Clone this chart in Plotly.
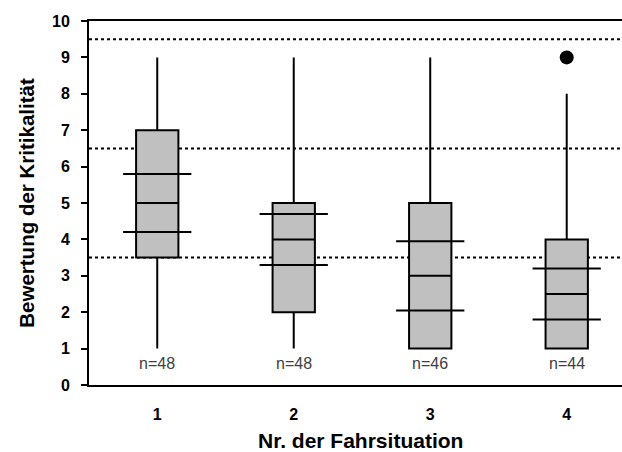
import plotly.graph_objects as go

situations = [1, 2, 3, 4]
lower_whisker = [1, 1, 1, 1]
q1 = [3.5, 2, 1, 1]
median = [5, 4, 3, 2.5]
q3 = [7, 5, 5, 4]
upper_whisker = [9, 9, 9, 8]
ci_lower = [4.2, 3.3, 2.05, 1.8]
ci_upper = [5.8, 4.7, 3.95, 3.2]
n_labels = ["n=48", "n=48", "n=46", "n=44"]
outlier_x = [4]
outlier_y = [9]
ref_lines = [3.5, 6.5, 9.5]
y_ticks = list(range(0, 11))

FONT = "Liberation Sans, Arial, sans-serif"
BOX_W = 0.31
CI_HALF = 0.25

fig = go.Figure()

fig.add_trace(go.Box(
    x=situations, q1=q1, median=median, q3=q3,
    lowerfence=lower_whisker, upperfence=upper_whisker,
    width=BOX_W, whiskerwidth=0, boxpoints=False,
    fillcolor="#C0C0C0", line=dict(color="black", width=2),
    showlegend=False, hoverinfo="skip",
))

ci_x, ci_y = [], []
for x, lo, hi in zip(situations, ci_lower, ci_upper):
    for v in (lo, hi):
        ci_x += [x - CI_HALF, x + CI_HALF, None]
        ci_y += [v, v, None]
fig.add_trace(go.Scatter(x=ci_x, y=ci_y, mode="lines",
                         line=dict(color="black", width=2),
                         showlegend=False, hoverinfo="skip"))

fig.add_trace(go.Scatter(x=outlier_x, y=outlier_y, mode="markers",
                         marker=dict(color="black", size=14),
                         showlegend=False, hoverinfo="skip"))

for v in ref_lines:
    fig.add_shape(type="line", xref="paper", x0=0, x1=1, yref="y", y0=v, y1=v,
                  line=dict(color="black", width=2, dash="3px,3px"), layer="below")

for x, t in zip(situations, n_labels):
    fig.add_annotation(x=x, y=0.6, text=t, showarrow=False,
                       font=dict(family=FONT, size=16, color="#404040"),
                       xanchor="center", yanchor="middle")

# x-axis title (the original axis continues past the right edge, so it is centred slightly right)
fig.add_annotation(xref="paper", yref="paper", x=0.51, y=0, yshift=-55,
                   text="<b>Nr. der Fahrsituation</b>", showarrow=False,
                   xanchor="center", yanchor="middle", borderpad=0,
                   font=dict(family=FONT, size=21, color="black"))

fig.update_layout(
    width=622, height=452,
    margin=dict(l=89, r=0, t=21, b=67),
    paper_bgcolor="white", plot_bgcolor="white",
    font=dict(family=FONT, color="black"),
)
fig.update_xaxes(
    range=[0.5, 4.405], tickmode="array", tickvals=situations,
    ticktext=[f"<b>{s}</b>" for s in situations],
    showline=True, linecolor="black", linewidth=2, mirror=True,
    ticks="", showgrid=False, zeroline=False,
    tickfont=dict(family=FONT, size=16, color="black"),
    ticklabelstandoff=14,
)
fig.update_yaxes(
    range=[0, 10], tickmode="array", tickvals=y_ticks,
    ticktext=[f"<b>{v}</b>" for v in y_ticks],
    showline=True, linecolor="black", linewidth=2,
    ticks="outside", ticklen=6, tickwidth=2, tickcolor="black",
    showgrid=False, zeroline=False,
    tickfont=dict(family=FONT, size=16, color="black"),
    ticklabelstandoff=8,
    title=dict(text="<b>Bewertung der Kritikalität</b>",
               font=dict(family=FONT, size=20.5, color="black"), standoff=12),
)

fig.write_html("out.html")
